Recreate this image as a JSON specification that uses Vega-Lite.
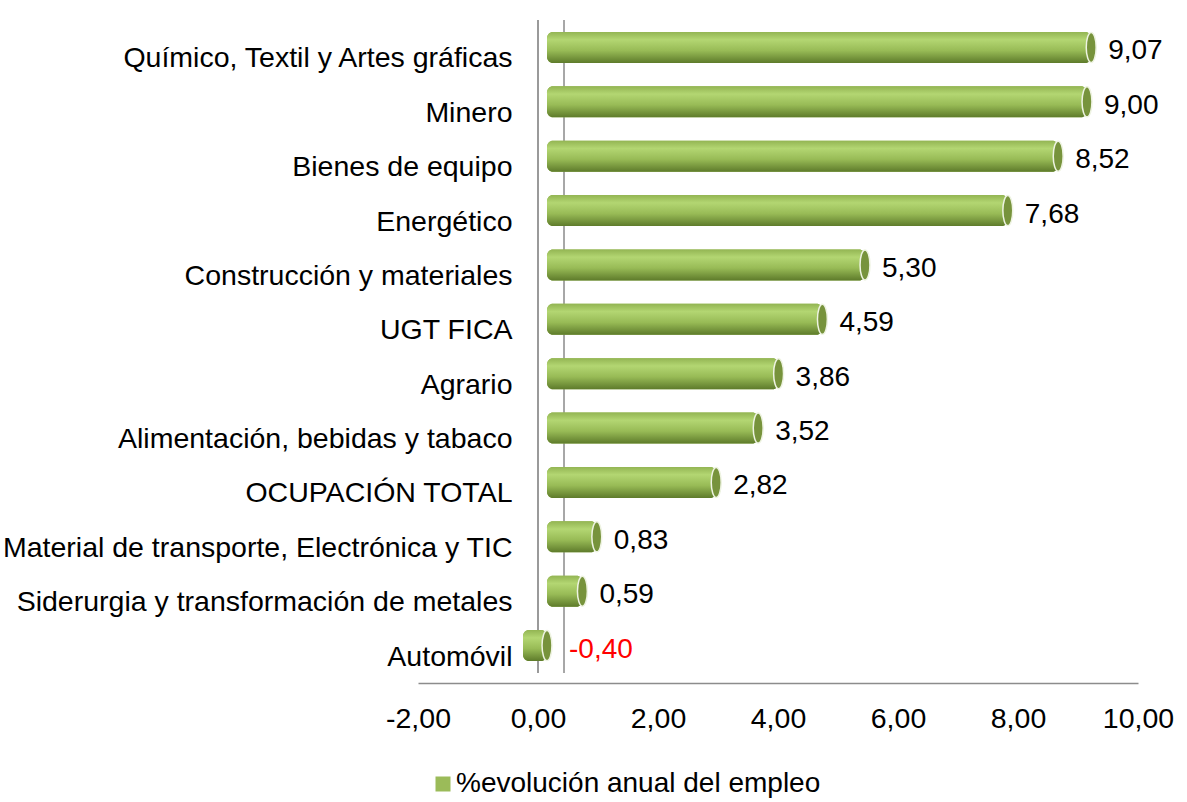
{
  "$schema": "https://vega.github.io/schema/vega-lite/v6.json",
  "width": 720,
  "height": 653,
  "autosize": {"type": "none"},
  "padding": {"left": 418, "top": 20, "right": 49, "bottom": 129},
  "background": "white",
  "config": {
    "view": {"stroke": null},
    "font": "Liberation Sans",
    "locale": {"number": {"decimal": ",", "thousands": ".", "grouping": [3], "currency": ["", " €"], "minus": "-"}}
  },
  "data": {
    "values": [
      {"sector": "Químico, Textil y Artes gráficas", "value": 9.07},
      {"sector": "Minero", "value": 9.00},
      {"sector": "Bienes de equipo", "value": 8.52},
      {"sector": "Energético", "value": 7.68},
      {"sector": "Construcción y materiales", "value": 5.30},
      {"sector": "UGT FICA", "value": 4.59},
      {"sector": "Agrario", "value": 3.86},
      {"sector": "Alimentación, bebidas y tabaco", "value": 3.52},
      {"sector": "OCUPACIÓN TOTAL", "value": 2.82},
      {"sector": "Material de transporte, Electrónica y TIC", "value": 0.83},
      {"sector": "Siderurgia y transformación de metales", "value": 0.59},
      {"sector": "Automóvil", "value": -0.40}
    ]
  },
  "layer": [
    {
      "mark": {"type": "rule", "color": "#9a9a9a", "strokeWidth": 2},
      "encoding": {
        "x": {"datum": 0, "type": "quantitative", "scale": {"domain": [-2, 10], "nice": false, "zero": false},
          "axis": {"title": null, "values": [-2, 0, 2, 4, 6, 8, 10], "format": ".2f", "grid": false, "ticks": false, "labelFlush": false,
            "domainColor": "#8c8c8c", "domainWidth": 1.5, "labelFontSize": 28.5, "labelColor": "#000", "labelPadding": 21, "offset": 10}}
      }
    },
    {
      "mark": {"type": "rule", "color": "#a8a8a8", "strokeWidth": 1.5},
      "encoding": {"x": {"datum": 0.43, "type": "quantitative"}}
    },
    {
      "mark": {"type": "bar", "xOffset": 9, "x2Offset": 9, "cornerRadius": 6},
      "encoding": {
        "y": {"field": "sector", "type": "nominal", "sort": null,
          "scale": {"paddingInner": 0.43, "paddingOuter": 0.22},
          "axis": {"title": null, "domain": false, "ticks": false, "labelPadding": 0, "offset": -94,
            "labelFontSize": 28.5, "labelColor": "#000", "labelOffset": 11, "labelLimit": 700}},
        "x": {"field": "value", "type": "quantitative"},
        "x2": {"datum": 0},
        "color": {"datum": "%evolución anual del empleo", "type": "nominal",
          "scale": {"range": ["#9bbb59"]},
          "legend": {"orient": "none", "legendX": 11, "legendY": 750, "title": null, "labelFontSize": 28, "labelColor": "#000",
            "labelLimit": 700, "symbolType": "square", "symbolSize": 225, "symbolStrokeWidth": 0, "labelOffset": -1}}
      }
    },
    {
      "mark": {
        "type": "bar",
        "xOffset": 9,
        "x2Offset": 9,
        "cornerRadius": 6,
        "fill": {
          "gradient": "linear", "x1": 0, "y1": 0, "x2": 0, "y2": 1,
          "stops": [
            {"offset": 0, "color": "#93b553"},
            {"offset": 0.25, "color": "#b3d672"},
            {"offset": 0.6, "color": "#98bb56"},
            {"offset": 1, "color": "#5e7b2b"}
          ]
        }
      },
      "encoding": {
        "y": {"field": "sector", "type": "nominal", "sort": null},
        "x": {"field": "value", "type": "quantitative"},
        "x2": {"datum": 0}
      }
    },
    {
      "transform": [{"filter": "datum.value >= 0"}],
      "mark": {"type": "point", "filled": true, "xOffset": 9, "shape": "M0,-1 A0.33,1 0 1,1 0,1 A0.33,1 0 1,1 0,-1 Z", "size": 900, "stroke": "#eef3e2", "strokeWidth": 1.5, "opacity": 1, "fill": "#77933c"},
      "encoding": {
        "y": {"field": "sector", "type": "nominal", "sort": null},
        "x": {"field": "value", "type": "quantitative"}
      }
    },
    {
      "transform": [{"filter": "datum.value < 0"}],
      "mark": {"type": "point", "filled": true, "xOffset": 9, "shape": "M0,-1 A0.33,1 0 1,1 0,1 A0.33,1 0 1,1 0,-1 Z", "size": 900, "stroke": "#eef3e2", "strokeWidth": 1.5, "opacity": 1, "fill": "#77933c"},
      "encoding": {
        "y": {"field": "sector", "type": "nominal", "sort": null},
        "x": {"datum": 0, "type": "quantitative"}
      }
    },
    {
      "transform": [{"filter": "datum.value >= 0"}],
      "mark": {"type": "text", "align": "left", "baseline": "middle", "dx": 26, "dy": 4, "fontSize": 28, "color": "#000"},
      "encoding": {
        "y": {"field": "sector", "type": "nominal", "sort": null},
        "x": {"field": "value", "type": "quantitative"},
        "text": {"field": "value", "type": "quantitative", "format": ".2f"}
      }
    },
    {
      "transform": [{"filter": "datum.value < 0"}],
      "mark": {"type": "text", "align": "left", "baseline": "middle", "dx": 31, "dy": 4, "fontSize": 28, "color": "#ff0000"},
      "encoding": {
        "y": {"field": "sector", "type": "nominal", "sort": null},
        "x": {"datum": 0, "type": "quantitative"},
        "text": {"field": "value", "type": "quantitative", "format": ".2f"}
      }
    }
  ]
}
